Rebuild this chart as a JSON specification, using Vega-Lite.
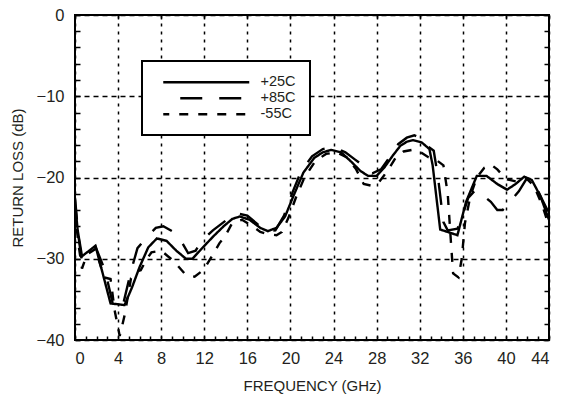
{
  "$schema": "https://vega.github.io/schema/vega-lite/v6.json",
  "width": 474,
  "height": 325,
  "autosize": {"type": "none"},
  "padding": {"left": 75, "top": 15, "right": 16, "bottom": 66},
  "background": "white",
  "config": {
    "view": {"stroke": "black", "strokeWidth": 2},
    "font": "Liberation Sans",
    "axis": {"labelFont": "Liberation Sans", "titleFont": "Liberation Sans", "labelColor": "#231f20", "titleColor": "#231f20", "titleFontWeight": "normal"}
  },
  "data": {"values": [
    {"series": "+25C", "f": 0, "rl": -23},
    {"series": "+25C", "f": 0.25, "rl": -26.5},
    {"series": "+25C", "f": 0.65, "rl": -29.7},
    {"series": "+25C", "f": 1.9, "rl": -28.4},
    {"series": "+25C", "f": 3.3, "rl": -35.5},
    {"series": "+25C", "f": 4.6, "rl": -35.7},
    {"series": "+25C", "f": 5.3, "rl": -33.5},
    {"series": "+25C", "f": 6.0, "rl": -31},
    {"series": "+25C", "f": 6.8, "rl": -28.6},
    {"series": "+25C", "f": 7.6, "rl": -27.5},
    {"series": "+25C", "f": 8.5, "rl": -27.8},
    {"series": "+25C", "f": 9.4, "rl": -29},
    {"series": "+25C", "f": 10.3, "rl": -30},
    {"series": "+25C", "f": 10.9, "rl": -30},
    {"series": "+25C", "f": 11.8, "rl": -28.7},
    {"series": "+25C", "f": 12.8, "rl": -27.3},
    {"series": "+25C", "f": 13.8, "rl": -26},
    {"series": "+25C", "f": 14.6, "rl": -25.1},
    {"series": "+25C", "f": 15.3, "rl": -24.8},
    {"series": "+25C", "f": 16.2, "rl": -25.2},
    {"series": "+25C", "f": 17.2, "rl": -26.2},
    {"series": "+25C", "f": 17.9, "rl": -26.6},
    {"series": "+25C", "f": 18.7, "rl": -26.2},
    {"series": "+25C", "f": 19.5, "rl": -24.8},
    {"series": "+25C", "f": 20.3, "rl": -22.2},
    {"series": "+25C", "f": 21.2, "rl": -19.4},
    {"series": "+25C", "f": 22.2, "rl": -17.6},
    {"series": "+25C", "f": 23.0, "rl": -16.9},
    {"series": "+25C", "f": 23.8, "rl": -16.6},
    {"series": "+25C", "f": 24.7, "rl": -16.9},
    {"series": "+25C", "f": 25.6, "rl": -18},
    {"series": "+25C", "f": 26.5, "rl": -19.2},
    {"series": "+25C", "f": 27.2, "rl": -19.8},
    {"series": "+25C", "f": 28.0, "rl": -19.8},
    {"series": "+25C", "f": 28.7, "rl": -18.8},
    {"series": "+25C", "f": 29.5, "rl": -17.3},
    {"series": "+25C", "f": 30.2, "rl": -16.1},
    {"series": "+25C", "f": 30.8, "rl": -15.6},
    {"series": "+25C", "f": 31.4, "rl": -15.4},
    {"series": "+25C", "f": 32.2, "rl": -15.7},
    {"series": "+25C", "f": 32.9, "rl": -16.5},
    {"series": "+25C", "f": 33.2, "rl": -18.5},
    {"series": "+25C", "f": 33.9, "rl": -26.4},
    {"series": "+25C", "f": 35.5, "rl": -27.1},
    {"series": "+25C", "f": 36.3, "rl": -23},
    {"series": "+25C", "f": 37.3, "rl": -19.8},
    {"series": "+25C", "f": 38.2, "rl": -19.8},
    {"series": "+25C", "f": 39.2, "rl": -20.8},
    {"series": "+25C", "f": 40.1, "rl": -21.5},
    {"series": "+25C", "f": 40.9, "rl": -20.8},
    {"series": "+25C", "f": 41.7, "rl": -19.9},
    {"series": "+25C", "f": 42.4, "rl": -20.3},
    {"series": "+25C", "f": 43.2, "rl": -22.3},
    {"series": "+25C", "f": 44, "rl": -25.2},

    {"series": "+85C", "f": 0, "rl": -22.5},
    {"series": "+85C", "f": 0.3, "rl": -27},
    {"series": "+85C", "f": 0.6, "rl": -30},
    {"series": "+85C", "f": 1.9, "rl": -28.5},
    {"series": "+85C", "f": 2.8, "rl": -31.5},
    {"series": "+85C", "f": 3.5, "rl": -35.5},
    {"series": "+85C", "f": 4.4, "rl": -36},
    {"series": "+85C", "f": 5.2, "rl": -31.5},
    {"series": "+85C", "f": 5.8, "rl": -28.7},
    {"series": "+85C", "f": 6.7, "rl": -27.3},
    {"series": "+85C", "f": 7.5, "rl": -26.2},
    {"series": "+85C", "f": 8.2, "rl": -26},
    {"series": "+85C", "f": 9.0, "rl": -26.6},
    {"series": "+85C", "f": 9.8, "rl": -27.7},
    {"series": "+85C", "f": 10.5, "rl": -29.3},
    {"series": "+85C", "f": 11.2, "rl": -29},
    {"series": "+85C", "f": 11.7, "rl": -27.9},
    {"series": "+85C", "f": 12.8, "rl": -26.5},
    {"series": "+85C", "f": 14.0, "rl": -25.3},
    {"series": "+85C", "f": 15.0, "rl": -24.4},
    {"series": "+85C", "f": 16.0, "rl": -24.7},
    {"series": "+85C", "f": 17.0, "rl": -25.8},
    {"series": "+85C", "f": 17.8, "rl": -26.6},
    {"series": "+85C", "f": 18.6, "rl": -26.5},
    {"series": "+85C", "f": 19.4, "rl": -24.7},
    {"series": "+85C", "f": 20.2, "rl": -21.8},
    {"series": "+85C", "f": 21.0, "rl": -19.2},
    {"series": "+85C", "f": 22.0, "rl": -17.4},
    {"series": "+85C", "f": 23.0, "rl": -16.5},
    {"series": "+85C", "f": 24.1, "rl": -16.3},
    {"series": "+85C", "f": 25.1, "rl": -16.9},
    {"series": "+85C", "f": 26.0, "rl": -17.8},
    {"series": "+85C", "f": 26.8, "rl": -18.6},
    {"series": "+85C", "f": 27.6, "rl": -19.5},
    {"series": "+85C", "f": 28.4, "rl": -19},
    {"series": "+85C", "f": 29.2, "rl": -17.5},
    {"series": "+85C", "f": 30.0, "rl": -15.9},
    {"series": "+85C", "f": 30.8, "rl": -15.1},
    {"series": "+85C", "f": 31.5, "rl": -14.8},
    {"series": "+85C", "f": 32.2, "rl": -15.2},
    {"series": "+85C", "f": 32.7, "rl": -16.1},
    {"series": "+85C", "f": 33.3, "rl": -16.7},
    {"series": "+85C", "f": 33.7, "rl": -20},
    {"series": "+85C", "f": 34.2, "rl": -25.5},
    {"series": "+85C", "f": 34.6, "rl": -26.5},
    {"series": "+85C", "f": 35.5, "rl": -26.3},
    {"series": "+85C", "f": 35.9, "rl": -25},
    {"series": "+85C", "f": 36.5, "rl": -22.5},
    {"series": "+85C", "f": 37.2, "rl": -21.5},
    {"series": "+85C", "f": 37.8, "rl": -22.1},
    {"series": "+85C", "f": 38.6, "rl": -23},
    {"series": "+85C", "f": 39.2, "rl": -24},
    {"series": "+85C", "f": 39.7, "rl": -24},
    {"series": "+85C", "f": 40.5, "rl": -22.8},
    {"series": "+85C", "f": 41.2, "rl": -21.7},
    {"series": "+85C", "f": 41.9, "rl": -20.2},
    {"series": "+85C", "f": 42.6, "rl": -20.6},
    {"series": "+85C", "f": 43.4, "rl": -22.8},
    {"series": "+85C", "f": 44, "rl": -24.4},

    {"series": "-55C", "f": 0, "rl": -24},
    {"series": "-55C", "f": 0.3, "rl": -28},
    {"series": "-55C", "f": 0.65, "rl": -31.2},
    {"series": "-55C", "f": 1.1, "rl": -29.5},
    {"series": "-55C", "f": 1.9, "rl": -28.8},
    {"series": "-55C", "f": 2.7, "rl": -32.3},
    {"series": "-55C", "f": 3.3, "rl": -32.5},
    {"series": "-55C", "f": 3.7, "rl": -36.5},
    {"series": "-55C", "f": 4.15, "rl": -39.5},
    {"series": "-55C", "f": 4.6, "rl": -37},
    {"series": "-55C", "f": 5.2, "rl": -32.4},
    {"series": "-55C", "f": 5.6, "rl": -31.6},
    {"series": "-55C", "f": 6.1, "rl": -31.4},
    {"series": "-55C", "f": 6.6, "rl": -30.2},
    {"series": "-55C", "f": 7.1, "rl": -29.2},
    {"series": "-55C", "f": 8.0, "rl": -29},
    {"series": "-55C", "f": 8.9, "rl": -30},
    {"series": "-55C", "f": 9.5, "rl": -30.8},
    {"series": "-55C", "f": 10.3, "rl": -32},
    {"series": "-55C", "f": 11.1, "rl": -32.2},
    {"series": "-55C", "f": 11.7, "rl": -31.6},
    {"series": "-55C", "f": 12.2, "rl": -30.8},
    {"series": "-55C", "f": 12.8, "rl": -29.5},
    {"series": "-55C", "f": 13.4, "rl": -28.1},
    {"series": "-55C", "f": 13.9, "rl": -27.3},
    {"series": "-55C", "f": 14.6, "rl": -25.6},
    {"series": "-55C", "f": 15.5, "rl": -25.2},
    {"series": "-55C", "f": 16.5, "rl": -26},
    {"series": "-55C", "f": 17.2, "rl": -26.7},
    {"series": "-55C", "f": 18.0, "rl": -27},
    {"series": "-55C", "f": 18.7, "rl": -27.1},
    {"series": "-55C", "f": 19.2, "rl": -26.7},
    {"series": "-55C", "f": 19.8, "rl": -25},
    {"series": "-55C", "f": 20.5, "rl": -22.5},
    {"series": "-55C", "f": 21.3, "rl": -20},
    {"series": "-55C", "f": 22.3, "rl": -18},
    {"series": "-55C", "f": 23.3, "rl": -17.1},
    {"series": "-55C", "f": 24.3, "rl": -16.9},
    {"series": "-55C", "f": 25.2, "rl": -17.5},
    {"series": "-55C", "f": 26.1, "rl": -19},
    {"series": "-55C", "f": 26.8, "rl": -20.8},
    {"series": "-55C", "f": 27.5, "rl": -21},
    {"series": "-55C", "f": 28.2, "rl": -20.6},
    {"series": "-55C", "f": 29.0, "rl": -19.2},
    {"series": "-55C", "f": 29.8, "rl": -17.5},
    {"series": "-55C", "f": 30.5, "rl": -16.8},
    {"series": "-55C", "f": 31.3, "rl": -16.6},
    {"series": "-55C", "f": 32.1, "rl": -16.9},
    {"series": "-55C", "f": 32.8, "rl": -17.5},
    {"series": "-55C", "f": 33.5, "rl": -17.8},
    {"series": "-55C", "f": 34.2, "rl": -18.5},
    {"series": "-55C", "f": 34.6, "rl": -22},
    {"series": "-55C", "f": 34.9, "rl": -28},
    {"series": "-55C", "f": 35.1, "rl": -31.8},
    {"series": "-55C", "f": 35.6, "rl": -32.3},
    {"series": "-55C", "f": 35.9, "rl": -30},
    {"series": "-55C", "f": 36.2, "rl": -25.6},
    {"series": "-55C", "f": 36.7, "rl": -22.3},
    {"series": "-55C", "f": 37.3, "rl": -20},
    {"series": "-55C", "f": 38.0, "rl": -18.8},
    {"series": "-55C", "f": 38.6, "rl": -18.4},
    {"series": "-55C", "f": 39.2, "rl": -19},
    {"series": "-55C", "f": 40.0, "rl": -20.2},
    {"series": "-55C", "f": 41.0, "rl": -20.5},
    {"series": "-55C", "f": 41.8, "rl": -20},
    {"series": "-55C", "f": 42.6, "rl": -21},
    {"series": "-55C", "f": 43.4, "rl": -23.5},
    {"series": "-55C", "f": 44, "rl": -26}
  ]},
  "resolve": {"axis": {"x": "independent", "y": "independent"}},
  "layer": [
    {
      "mark": {"type": "line", "color": "black", "strokeWidth": 2.4, "clip": true},
      "encoding": {
        "x": {"field": "f", "type": "quantitative",
          "scale": {"domain": [0, 44], "nice": false, "zero": false},
          "axis": {"orient": "bottom", "values": [0,4,8,12,16,20,24,28,32,36,40,44], "grid": true, "gridColor": "black", "gridDash": [3,5], "gridWidth": 1.5, "gridOpacity": 1, "ticks": false, "domain": false, "labelFontSize": 16.5, "labelPadding": 10, "title": "FREQUENCY (GHz)", "titleFontSize": 15, "titlePadding": 12}},
        "y": {"field": "rl", "type": "quantitative",
          "scale": {"domain": [-40, 0], "nice": false, "zero": false},
          "axis": {"orient": "left", "values": [-40,-30,-20,-10,0], "grid": true, "gridColor": "black", "gridDash": [5,4], "gridWidth": 1.5, "gridOpacity": 1, "ticks": false, "domain": false, "labelFontSize": 16.5, "labelPadding": 11, "title": "RETURN LOSS (dB)", "titleFontSize": 15, "titlePadding": 11}},
        "strokeDash": {"field": "series", "type": "nominal",
          "scale": {"domain": ["+25C", "+85C", "-55C"], "range": [[1, 0], [22, 17], [9, 10]]},
          "legend": {"orient": "none", "legendX": 67, "legendY": 46, "title": null,
            "symbolType": "M0,0H17.2", "symbolSize": 100, "symbolStrokeWidth": 2.4, "symbolStrokeColor": "black", "symbolFillColor": "transparent", "symbolDashOffset": 22,
            "labelOffset": 90, "labelFontSize": 14.5, "labelFont": "Liberation Sans", "labelColor": "#231f20", "labelLimit": 200,
            "padding": 14, "rowPadding": 1, "strokeColor": "black", "fillColor": "white",
            "encode": {"legend": {"update": {"strokeWidth": {"value": 2}}}}}}
      }
    },
    {
      "mark": {"type": "point", "opacity": 0},
      "encoding": {
        "x": {"field": "f", "type": "quantitative",
          "axis": {"orient": "bottom", "values": [0,1,2,3,4,5,6,7,8,9,10,11,12,13,14,15,16,17,18,19,20,21,22,23,24,25,26,27,28,29,30,31,32,33,34,35,36,37,38,39,40,41,42,43,44], "grid": false, "ticks": true, "tickSize": -4, "tickColor": "black", "tickWidth": 1.5, "labels": false, "domain": false, "title": null}},
        "y": {"field": "rl", "type": "quantitative",
          "axis": {"orient": "left", "values": [-40,-38,-36,-34,-32,-30,-28,-26,-24,-22,-20,-18,-16,-14,-12,-10,-8,-6,-4,-2,0], "grid": false, "ticks": true, "tickSize": -5, "tickColor": "black", "tickWidth": 1.5, "labels": false, "domain": false, "title": null}}
      }
    },
    {
      "mark": {"type": "point", "opacity": 0},
      "encoding": {
        "x": {"field": "f", "type": "quantitative",
          "axis": {"orient": "top", "values": [0,4,8,12,16,20,24,28,32,36,40,44], "grid": false, "ticks": true, "tickSize": -4, "tickColor": "black", "tickWidth": 1.5, "labels": false, "domain": false, "title": null}},
        "y": {"field": "rl", "type": "quantitative",
          "axis": {"orient": "right", "values": [-40,-38,-36,-34,-32,-30,-28,-26,-24,-22,-20,-18,-16,-14,-12,-10,-8,-6,-4,-2,0], "grid": false, "ticks": true, "tickSize": -5, "tickColor": "black", "tickWidth": 1.5, "labels": false, "domain": false, "title": null}}
      }
    }
  ]
}
